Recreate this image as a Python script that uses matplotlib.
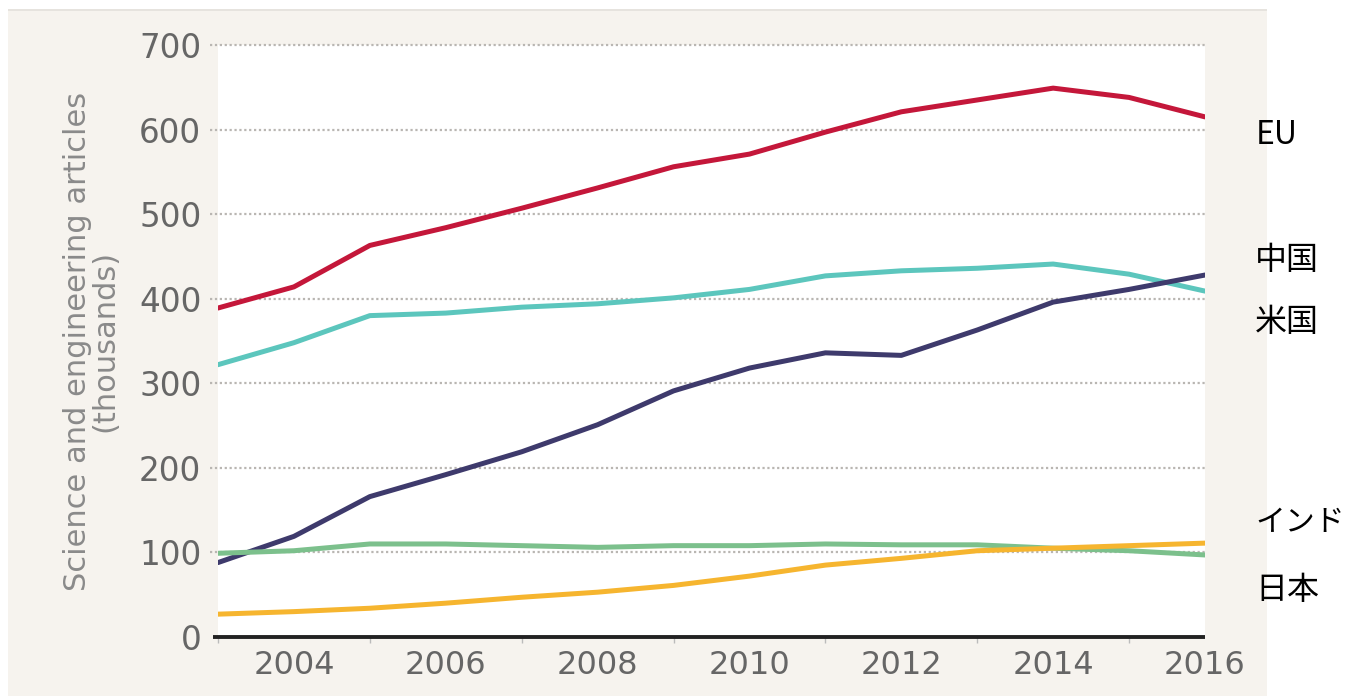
import matplotlib
matplotlib.use("Agg")
import matplotlib.pyplot as plt
from matplotlib.patches import Rectangle

years = list(range(2003, 2017))
eu    = [389, 414, 463, 484, 507, 531, 556, 571, 597, 621, 635, 649, 638, 615]
usa   = [322, 348, 380, 383, 390, 394, 401, 411, 427, 433, 436, 441, 429, 409]
china = [88, 119, 166, 192, 219, 251, 291, 318, 336, 333, 363, 396, 411, 428]
japan = [99, 102, 110, 110, 108, 106, 108, 108, 110, 109, 109, 105, 102, 97]
india = [27, 30, 34, 40, 47, 53, 61, 72, 85, 93, 102, 105, 108, 111]

series = [
    ("EU", eu, "#c4173a"),
    ("米国", usa, "#5cc6bd"),
    ("中国", china, "#3e3a6c"),
    ("日本", japan, "#7cc08c"),
    ("インド", india, "#f6b52f"),
]
side_labels = ["EU", "中国", "米国", "インド", "日本"]
side_label_values = [594, 446, 372, 135, 55]
side_label_sizes = [23, 23, 23, 21.5, 23]

y_ticks = [0, 100, 200, 300, 400, 500, 600, 700]
x_tick_labels = [2004, 2006, 2008, 2010, 2012, 2014, 2016]
y_label = "Science and engineering articles\n(thousands)"

W, H = 1346, 696
fig = plt.figure(figsize=(W / 100, H / 100), dpi=100, facecolor="white")

# beige panel
fig.patches.append(Rectangle((8 / W, 0), (1267 - 8) / W, (H - 10) / H,
                             transform=fig.transFigure, facecolor="#f6f3ee",
                             edgecolor="none", zorder=-10))
fig.patches.append(Rectangle((8 / W, (H - 11) / H), (1267 - 8) / W, 2 / H,
                             transform=fig.transFigure, facecolor="#e6e3de",
                             edgecolor="none", zorder=-10))

ax = fig.add_axes([218 / W, 1 - 637 / H, (1205 - 218) / W, (637 - 45) / H])
ax.set_facecolor("white")
ax.set_xlim(years[0], years[-1])
ax.set_ylim(0, 700)
for s in ax.spines.values():
    s.set_visible(False)

# grid lines
ax.hlines(y_ticks[1:], years[0] - 0.1, years[-1], colors="#b9b6b2",
          linestyles=(0, (1, 1.2)), linewidth=1.6, clip_on=False, zorder=1)

for name, vals, col in series:
    ax.plot(years, vals, color=col, linewidth=3.6, solid_capstyle="round",
            solid_joinstyle="round", zorder=3)

# baseline
ax.hlines(0, years[0] - 0.07, years[-1], colors="#222222", linewidth=2.8,
          clip_on=False, zorder=4)

ax.set_yticks(y_ticks)
ax.set_yticklabels([str(v) for v in y_ticks])
ax.set_xticks(x_tick_labels)
ax.set_xticklabels([str(v) for v in x_tick_labels])
ax.set_xticks(years, minor=True)
ax.tick_params(axis="y", length=0, pad=12, labelsize=23.5, labelcolor="#666666")
ax.tick_params(axis="x", which="major", length=0, pad=9, labelsize=23,
               labelcolor="#666666")
ax.tick_params(axis="x", which="minor", length=4, width=1, color="#bbbbbb",
               direction="out")

ax.set_ylabel(y_label, fontsize=22, color="#8a8a8a", labelpad=14,
              linespacing=0.95)

for lab, v, fs in zip(side_labels, side_label_values, side_label_sizes):
    ax.text(1.051, v, lab, transform=ax.get_yaxis_transform(),
            fontsize=fs, color="black", va="center", ha="left",
            family=["Noto Sans CJK JP", "DejaVu Sans"])

fig.savefig("out.png", dpi=100, facecolor="white")
